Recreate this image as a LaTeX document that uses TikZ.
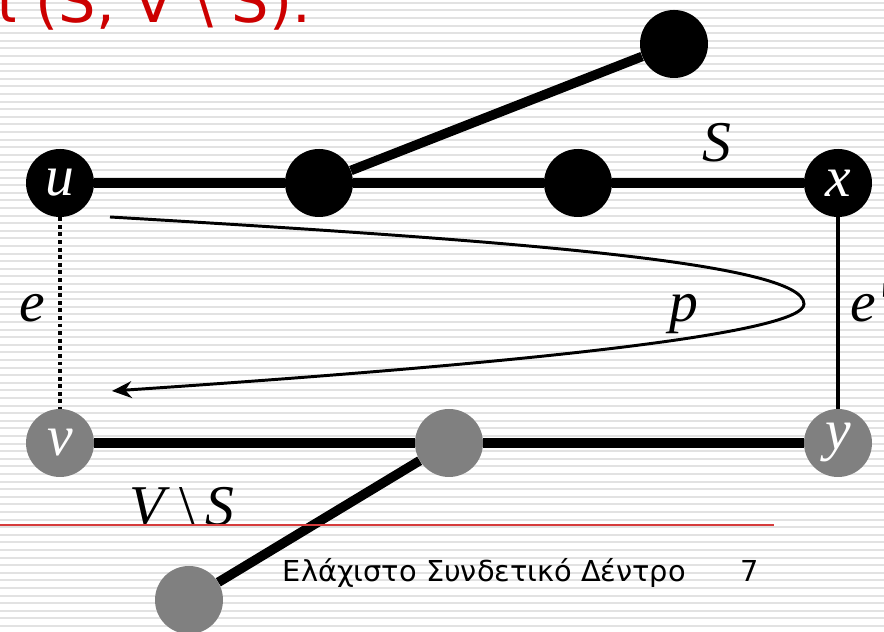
\documentclass[tikz,border=0pt]{standalone}
\usepackage{fontspec}
\setmainfont{Liberation Serif}
\newfontfamily\slidefont{DejaVu Sans}
\usetikzlibrary{arrows.meta}

\definecolor{slidered}{RGB}{204,0,0}
\definecolor{linered}{RGB}{214,60,60}
\definecolor{stripegray}{RGB}{226,226,226}
\newcommand{\lbl}[1]{\textit{#1}}

\begin{document}
\begin{tikzpicture}[
    vert/.style={circle, fill=black, minimum size=1.7cm, inner sep=0pt, text=white, font=\fontsize{41}{41}\selectfont},
    outvert/.style={vert, fill=gray},
    tree/.style={line width=6.8pt},
    cross/.style={line width=2.8pt},
    lab/.style={font=\fontsize{41}{41}\selectfont, anchor=base}
]
    \useasboundingbox (0,0) rectangle (22.1,15.8);
    \clip (0,0) rectangle (22.1,15.8);

    % striped slide background
    \fill[white] (0,0) rectangle (22.1,15.8);
    \foreach \k in {0,...,83}
        \draw[stripegray, line width=1.4pt] (0,{15.73-0.19*\k}) -- (22.1,{15.73-0.19*\k});

    % end of the title line
    \node[text=slidered, font=\slidefont\fontsize{42}{42}\selectfont, anchor=base east] (title) at (7.9,15.225) {και (S, V \textbackslash\ S).};

    % vertices in S
    \node[vert] (u) at (1.5,11.225) {\lbl{u}};
    \node[vert] (s2) at (7.975,11.225) {};
    \node[vert] (s3) at (14.45,11.225) {};
    \node[vert] (x) at (20.95,11.225) {\lbl{x}};
    \node[vert] (s4) at (16.85,14.7) {};

    % vertices in V \ S
    \node[outvert] (v) at (1.5,4.725) {\lbl{v}};
    \node[outvert] (t2) at (11.225,4.725) {};
    \node[outvert] (y) at (20.95,4.725) {\lbl{y}};
    \node[outvert] (t3) at (4.725,0.8) {};

    % tree edges
    \draw[tree] (u) -- (s2) -- (s3) -- (x);
    \draw[tree] (s2) -- (s4);
    \draw[tree] (v) -- (t2) -- (y);
    \draw[tree] (t2) -- (t3);

    % crossing edges e and e'
    \draw[cross, dash pattern=on 2.8pt off 2.6pt] (u) -- (v);
    \draw[cross] (x) -- (y);

    % path p
    \coordinate (pstart) at (2.75,10.375);
    \coordinate (ptip) at (20.1,8.2);
    \coordinate (pend) at (2.8,6.025);
    \draw[line width=2.1pt, -{Stealth[length=14pt, width=12pt]}]
        (pstart) .. controls (12.5,9.8) and (20.1,9.25) .. (ptip)
                 .. controls (20.1,7.425) and (12.5,6.675) .. (pend);

    % labels
    \node[lab] (lS) at (17.925,11.75) {\lbl{S}};
    \node[lab] (le) at (0.8,7.75) {\lbl{e}};
    \node[lab] (lp) at (17.1,7.75) {\lbl{p}};
    \node[lab, anchor=base west] (le2) at (21.15,7.75) {\lbl{e\textquotesingle}};
    \node[lab] (lVS) at (4.54,2.65) {\lbl{V}\,\textbackslash\,\lbl{S}};

    % footer
    \draw[linered, line width=1pt] (0,2.675) -- (19.35,2.675);
    \node[font=\slidefont\fontsize{20.5}{20.5}\selectfont, anchor=base west] (foot) at (6.95,1.25) {Ελάχιστο Συνδετικό Δέντρο};
    \node[font=\slidefont\fontsize{20.5}{20.5}\selectfont, anchor=base] (page) at (18.75,1.25) {7};
\end{tikzpicture}
\end{document}
